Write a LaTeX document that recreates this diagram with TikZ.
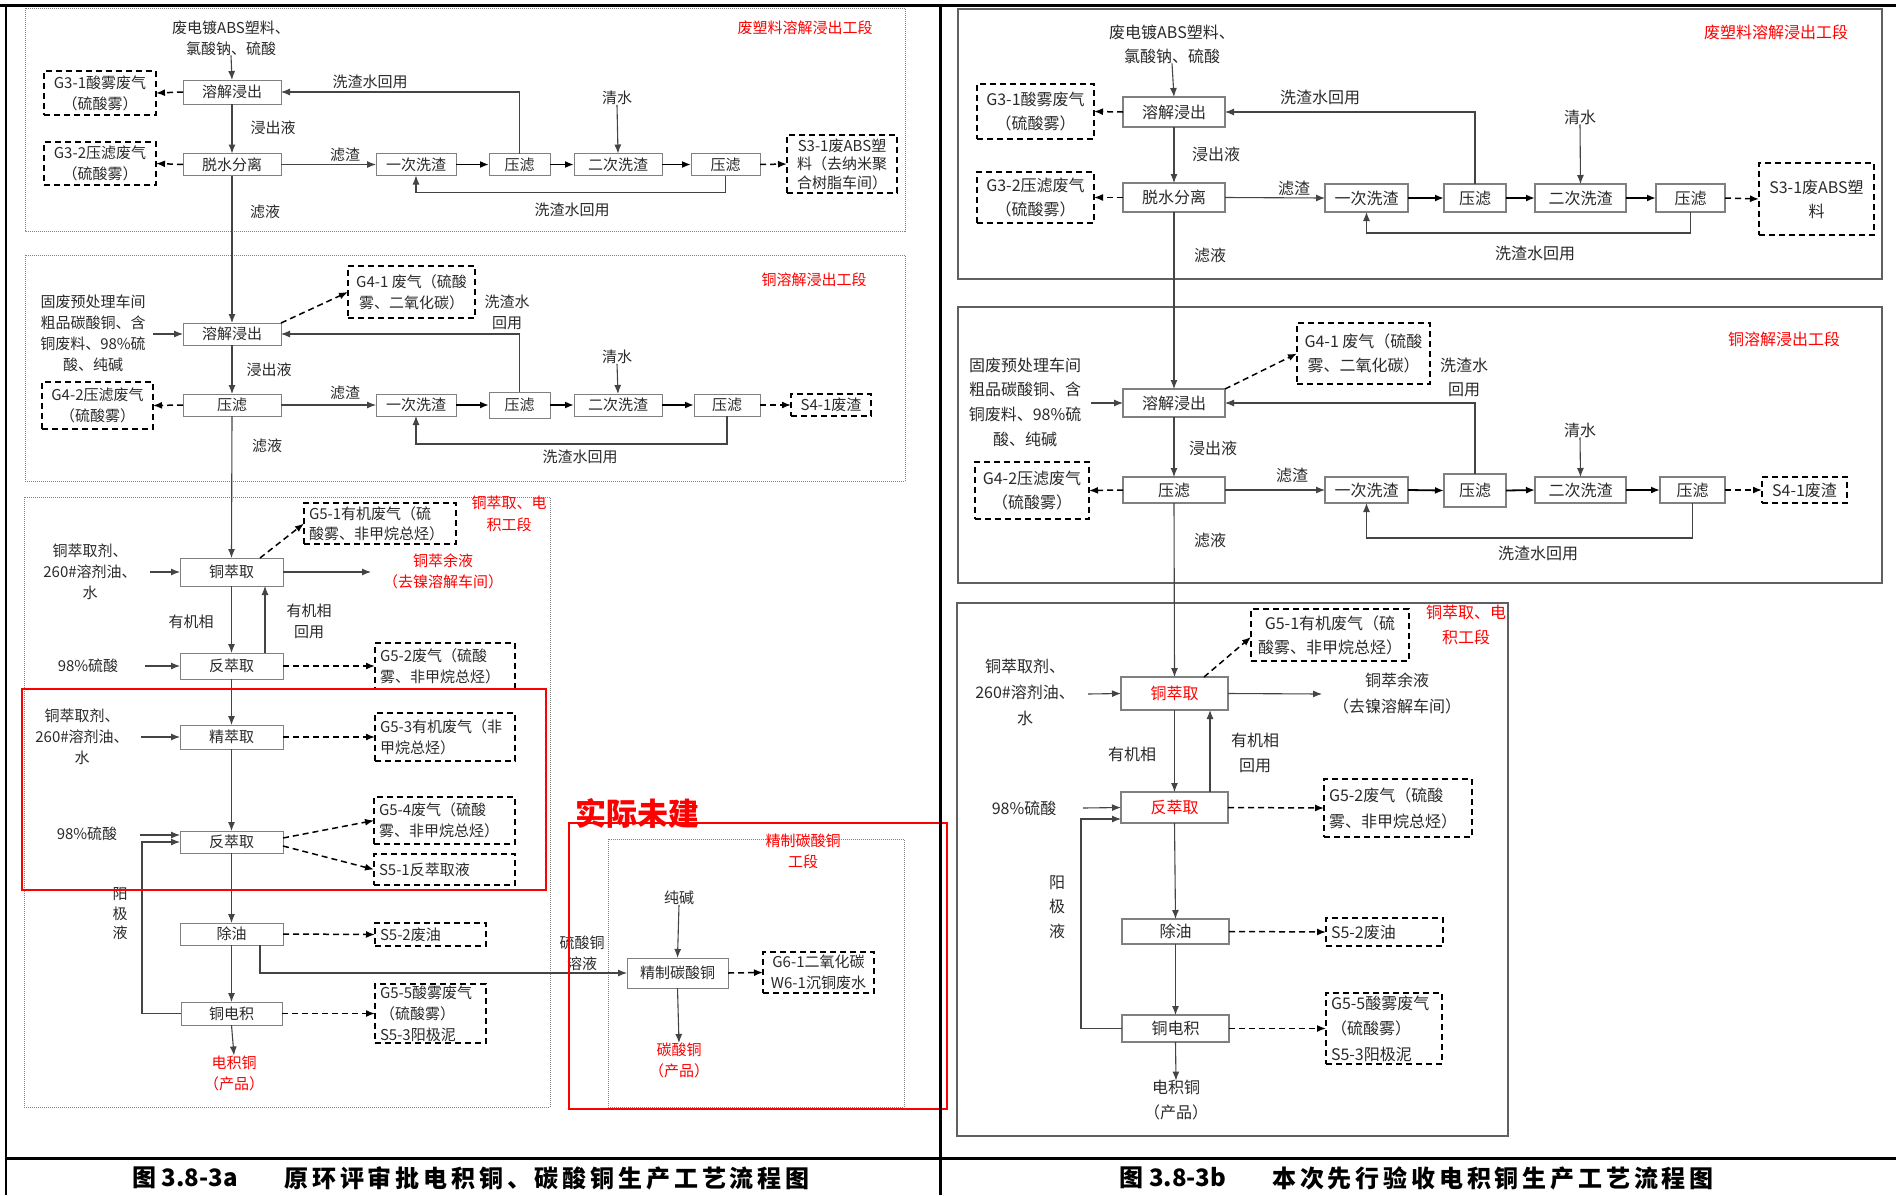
\documentclass[tikz,border=0pt]{standalone}
\usepackage{fontspec}
\setmainfont{Noto Sans CJK SC}
\newfontfamily\capfont[LetterSpace=16]{Noto Sans CJK SC}
\newfontfamily\capnl{Noto Sans CJK SC}
\usetikzlibrary{arrows.meta}
\definecolor{txt}{HTML}{2A2A2A}
\definecolor{lnc}{HTML}{444444}
\definecolor{bxc}{HTML}{808080}
\definecolor{rd}{HTML}{FF0000}
\tikzset{
 bs/.style={inner sep=0pt, outer sep=0pt, text=txt, align=center},
 lf/.style={font=\fontsize{15}{21}\selectfont},
 rf/.style={font=\fontsize{16}{24}\selectfont},
 pbox/.style={bs, draw=bxc, line width=1pt, fill=white},
 rbox/.style={bs, draw=bxc, line width=1.4pt, fill=white},
 dbox/.style={bs, draw=black, line width=1.6pt, dash pattern=on 6pt off 4pt},
 dboxL/.style={dbox, align=left, inner xsep=5pt},
 lbl/.style={bs},
 ttl/.style={bs, text=rd},
 arr/.style={draw=lnc, line width=1.1pt, -{Latex[length=9pt,width=7pt]}},
 barr/.style={draw=black, line width=1.8pt, -{Latex[length=9pt,width=7pt]}},
 darr/.style={draw=black, line width=1.5pt, dash pattern=on 6pt off 4pt, -{Latex[length=9pt,width=7pt]}},
 dotbox/.style={draw=gray, line width=0.9pt, dash pattern=on 1pt off 1pt},
 redbox/.style={draw=rd, line width=2.5pt},
 gbox/.style={draw=gray!75!black, line width=1.8pt},
 captxt/.style={bs, text=black, font=\capfont\bfseries\fontsize{24}{24}\selectfont},
 capnum/.style={bs, text=black, font=\capnl\bfseries\fontsize{24}{24}\selectfont},
}
\begin{document}
\begin{tikzpicture}[x=1pt,y=-1pt]
\useasboundingbox (0,0) rectangle (1896,1195);
\fill[white] (0,0) rectangle (1896,1195);

%================ LEFT (3a) =================
% ---- section 1
\draw[dotbox] (25,8) rectangle (905,231);
\node[ttl,lf] (LT1) at (805,28) {废塑料溶解浸出工段};
\node[lbl,lf] (L1in) at (231,38) {废电镀ABS塑料、\\氯酸钠、硫酸};
\node[pbox,lf,minimum width=98pt,minimum height=24pt] (L1a) at (232,92) {溶解浸出};
\node[pbox,lf,minimum width=98pt,minimum height=22pt] (L1b) at (232,164.5) {脱水分离};
\node[pbox,lf,minimum width=80pt,minimum height=22pt] (L1c) at (416,164.5) {一次洗渣};
\node[pbox,lf,minimum width=61pt,minimum height=22pt] (L1d) at (519.5,164.5) {压滤};
\node[pbox,lf,minimum width=88pt,minimum height=22pt] (L1e) at (618,164.5) {二次洗渣};
\node[pbox,lf,minimum width=69pt,minimum height=22pt] (L1f) at (725.5,164.5) {压滤};
\node[dbox,lf,minimum width=112pt,minimum height=44pt] (G31) at (100,93) {G3-1酸雾废气\\（硫酸雾）};
\node[dbox,lf,minimum width=112pt,minimum height=43pt] (G32) at (100,163.5) {G3-2压滤废气\\（硫酸雾）};
\node[dbox,font=\fontsize{15}{18.5}\selectfont,minimum width=110pt,minimum height=58pt] (S31) at (842,164) {S3-1废ABS塑\\料（去纳米聚\\合树脂车间）};
\node[lbl,lf] (Lqs1) at (617,98) {清水};
\node[lbl,lf] (Lw1) at (370,82) {洗渣水回用};
\node[lbl,lf] (Ljc1) at (273,128) {浸出液};
\node[lbl,lf] (Llz1) at (345,155) {滤渣};
\node[lbl,lf] (Lw2) at (572,210) {洗渣水回用};
\node[lbl,lf] (Lly1) at (265,212) {滤液};
\draw[arr] (L1in.south) -- (L1a.north);
\draw[darr] (L1a.west) -- (G31.east);
\draw[darr] (L1b.west) -- (G32.east);
\draw[arr] (L1a.south) -- (L1b.north);
\draw[arr] (L1b.east) -- (L1c.west);
\draw[barr] (L1c.east) -- (L1d.west);
\draw[barr] (L1d.east) -- (L1e.west);
\draw[barr] (L1e.east) -- (L1f.west);
\draw[darr] (L1f.east) -- (S31.west);
\draw[arr] (L1d.north) |- (L1a.east);
\draw[arr] (L1f.south) -- ++(0,17) -| (L1c.south);
\draw[arr] (Lqs1.south) -- (L1e.north);

% ---- section 2
\draw[dotbox] (25,255) rectangle (905,481);
\node[ttl,lf] (LT2) at (814,280) {铜溶解浸出工段};
\node[lbl,lf] (L2in) at (93,333.5) {固废预处理车间\\粗品碳酸铜、含\\铜废料、98\%硫\\酸、纯碱};
\coordinate (L2s) at (153,334);
\node[pbox,lf,minimum width=98pt,minimum height=22pt] (L2a) at (232,334) {溶解浸出};
\node[dbox,lf,minimum width=127pt,minimum height=52pt] (G41) at (411.5,292) {G4-1 废气（硫酸\\雾、二氧化碳）};
\node[lbl,lf] (Lw3) at (507,312.5) {洗渣水\\回用};
\node[lbl,lf] (Ljc2) at (269,370) {浸出液};
\node[pbox,lf,minimum width=98pt,minimum height=22pt] (L2b) at (232,405) {压滤};
\node[dbox,lf,minimum width=111pt,minimum height=47pt] (G42) at (97.5,405.5) {G4-2压滤废气\\（硫酸雾）};
\node[lbl,lf] (Llz2) at (345,393) {滤渣};
\node[pbox,lf,minimum width=80pt,minimum height=22pt] (L2c) at (416,405) {一次洗渣};
\node[pbox,lf,minimum width=61pt,minimum height=26pt] (L2d) at (519.5,405) {压滤};
\node[pbox,lf,minimum width=88pt,minimum height=22pt] (L2e) at (618,405) {二次洗渣};
\node[pbox,lf,minimum width=66pt,minimum height=22pt] (L2f) at (727,405) {压滤};
\node[dbox,lf,minimum width=80pt,minimum height=22pt] (S41) at (831,405) {S4-1废渣};
\node[lbl,lf] (Lqs2) at (617,357) {清水};
\node[lbl,lf] (Lw4) at (580,457) {洗渣水回用};
\node[lbl,lf] (Lly2) at (267,446) {滤液};
\draw[arr] (L1b.south) -- (L2a.north);
\draw[arr] (L2s) -- (L2a.west);
\draw[darr] (L2a.north east) -- (G41.west);
\draw[darr] (L2b.west) -- (G42.east);
\draw[arr] (L2a.south) -- (L2b.north);
\draw[arr] (L2b.east) -- (L2c.west);
\draw[barr] (L2c.east) -- (L2d.west);
\draw[barr] (L2d.east) -- (L2e.west);
\draw[barr] (L2e.east) -- (L2f.west);
\draw[darr] (L2f.east) -- (S41.west);
\draw[arr] (L2d.north) |- (L2a.east);
\draw[arr] (L2f.south) -- ++(0,28) -| (L2c.south);
\draw[arr] (Lqs2.south) -- (L2e.north);

% ---- section 3
\draw[dotbox] (24,497) rectangle (550,1107);
\node[ttl,font=\fontsize{15}{22}\selectfont] (LT3) at (509,514) {铜萃取、电\\积工段};
\node[lbl,lf] (L3in) at (90,571.5) {铜萃取剂、\\260\#溶剂油、\\水};
\coordinate (L3s) at (150,572);
\node[pbox,lf,minimum width=103pt,minimum height=28pt] (L3a) at (231.5,572) {铜萃取};
\node[dboxL,font=\fontsize{15}{20}\selectfont,text width=142pt,minimum height=41pt] (G51) at (380,523.5) {G5-1有机废气（硫\\酸雾、非甲烷总烃）};
\coordinate (L3o) at (371,572);
\node[ttl,lf] (L3out) at (443,571.5) {铜萃余液\\（去镍溶解车间）};
\node[lbl,lf] (Lyj1) at (191,622) {有机相};
\node[lbl,lf] (Lyj2) at (309,621.5) {有机相\\回用};
\node[pbox,lf,minimum width=103pt,minimum height=26pt] (L3b) at (231.5,666) {反萃取};
\node[lbl,lf] (L98a) at (88,666) {98\%硫酸};
\coordinate (L3s2) at (145,666);
\node[dboxL,lf,text width=130pt,minimum height=46pt] (G52) at (445,666) {G5-2废气（硫酸\\雾、非甲烷总烃）};
\node[pbox,lf,minimum width=103pt,minimum height=24pt] (L3c) at (231.5,737) {精萃取};
\node[lbl,lf] (L3in2) at (82,737) {铜萃取剂、\\260\#溶剂油、\\水};
\coordinate (L3s3) at (141,737);
\node[dboxL,lf,text width=130pt,minimum height=48pt] (G53) at (445,737) {G5-3有机废气（非\\甲烷总烃）};
\node[pbox,lf,minimum width=103pt,minimum height=22pt] (L3d) at (231.5,842) {反萃取};
\node[lbl,lf] (L98b) at (87,834) {98\%硫酸};
\coordinate (L3s4) at (140,835);
\node[dboxL,lf,text width=131pt,minimum height=47pt] (G54) at (444.5,820.5) {G5-4废气（硫酸\\雾、非甲烷总烃）};
\node[dboxL,lf,text width=131pt,minimum height=31pt] (S51) at (444.5,869.5) {S5-1反萃取液};
\node[lbl,font=\fontsize{15}{19.5}\selectfont] (Lyjy) at (120,914) {阳\\极\\液};
\node[pbox,lf,minimum width=103pt,minimum height=22pt] (L3e) at (231.5,934) {除油};
\node[dboxL,lf,text width=101pt,minimum height=23pt] (S52) at (430.5,934.5) {S5-2废油};
\node[pbox,lf,minimum width=101pt,minimum height=23pt] (L3f) at (231.5,1013.5) {铜电积};
\node[dboxL,lf,text width=101pt,minimum height=59pt] (G55) at (430.5,1013.5) {G5-5酸雾废气\\（硫酸雾）\\S5-3阳极泥};
\node[ttl,lf] (L3prod) at (234,1073) {电积铜\\（产品）};
\draw[arr] (L2b.south) -- (L3a.north);
\draw[arr] (L3s) -- (L3a.west);
\draw[darr] ([xshift=28.5pt]L3a.north) -- (G51.west);
\draw[arr] (L3a.east) -- (L3o);
\draw[arr] (L3a.south) -- (L3b.north);
\draw[arr] ([xshift=33.5pt]L3b.north) -- ([xshift=33.5pt]L3a.south);
\draw[arr] (L3s2) -- (L3b.west);
\draw[darr] (L3b.east) -- (G52.west);
\draw[arr] (L3b.south) -- (L3c.north);
\draw[arr] (L3s3) -- (L3c.west);
\draw[darr] (L3c.east) -- (G53.west);
\draw[arr] (L3c.south) -- (L3d.north);
\draw[arr] (L3s4) -- (L3d.west |- L3s4);
\draw[darr] ([yshift=4pt]L3d.east) -- (G54.west);
\draw[darr] ([yshift=-4pt]L3d.east) -- (S51.west);
\draw[arr] (L3d.south) -- (L3e.north);
\draw[darr] (L3e.east) -- (S52.west);
\draw[arr] (L3e.south) -- (L3f.north);
\draw[darr] (L3f.east) -- (G55.west);
\draw[arr] (L3f.south) -- (L3prod.north);
\draw[arr] (L3f.west) -- ++(-39,0) |- (L3d.west);

% ---- section 4
\draw[dotbox] (608,839) rectangle (904,1107);
\node[ttl,lf] (LT4) at (803,851.5) {精制碳酸铜\\工段};
\node[lbl,lf] (Lcj) at (679,898) {纯碱};
\node[pbox,lf,minimum width=101pt,minimum height=30pt] (L4a) at (677.5,973) {精制碳酸铜};
\node[lbl,lf] (Llsy) at (582,953) {硫酸铜\\溶液};
\node[dbox,lf,minimum width=111pt,minimum height=41pt] (G61) at (818.5,972.5) {G6-1二氧化碳\\W6-1沉铜废水};
\node[ttl,lf] (L4prod) at (679,1060.5) {碳酸铜\\（产品）};
\draw[arr] (Lcj.south) -- (L4a.north);
\draw[darr] (L4a.east) -- (G61.west);
\draw[arr] (L4a.south) -- (L4prod.north);
\draw[arr] ([xshift=28.5pt]L3e.south) |- (L4a.west);

% red marks
\draw[redbox] (22,689) rectangle (546,890);
\draw[redbox] (569,823) rectangle (947,1109);
\node[bs,text=rd,font=\bfseries\fontsize{31}{31}\selectfont] (Lwj) at (637,813) {实际未建};

%================ RIGHT (3b) =================
% ---- section 1
\draw[gbox] (958,9) rectangle (1882,279);
\node[ttl,rf] (RT1) at (1776,32) {废塑料溶解浸出工段};
\node[lbl,rf] (R1in) at (1172,44) {废电镀ABS塑料、\\氯酸钠、硫酸};
\node[rbox,rf,minimum width=102pt,minimum height=30pt] (R1a) at (1174,112) {溶解浸出};
\node[rbox,rf,minimum width=102pt,minimum height=29pt] (R1b) at (1174,197.5) {脱水分离};
\node[rbox,rf,minimum width=83pt,minimum height=28pt] (R1c) at (1366.5,198) {一次洗渣};
\node[rbox,rf,minimum width=62pt,minimum height=28pt] (R1d) at (1475,198) {压滤};
\node[rbox,rf,minimum width=91pt,minimum height=28pt] (R1e) at (1580.5,198) {二次洗渣};
\node[rbox,rf,minimum width=69pt,minimum height=28pt] (R1f) at (1690.5,198) {压滤};
\node[dbox,rf,minimum width=117pt,minimum height=55pt] (RG31) at (1035.5,111.5) {G3-1酸雾废气\\（硫酸雾）};
\node[dbox,rf,minimum width=117pt,minimum height=51pt] (RG32) at (1035.5,197.5) {G3-2压滤废气\\（硫酸雾）};
\node[dbox,rf,minimum width=115pt,minimum height=72pt] (RS31) at (1816.5,199) {S3-1废ABS塑\\料};
\node[lbl,rf] (Rqs1) at (1580,117) {清水};
\node[lbl,rf] (Rw1) at (1320,97) {洗渣水回用};
\node[lbl,rf] (Rjc1) at (1216,154) {浸出液};
\node[lbl,rf] (Rlz1) at (1294,188) {滤渣};
\node[lbl,rf] (Rw2) at (1535,253) {洗渣水回用};
\node[lbl,rf] (Rly1) at (1210,255) {滤液};
\draw[arr] (R1in.south) -- (R1a.north);
\draw[darr] (R1a.west) -- (RG31.east);
\draw[darr] (R1b.west) -- (RG32.east);
\draw[arr] (R1a.south) -- (R1b.north);
\draw[arr] (R1b.east) -- (R1c.west);
\draw[barr] (R1c.east) -- (R1d.west);
\draw[barr] (R1d.east) -- (R1e.west);
\draw[barr] (R1e.east) -- (R1f.west);
\draw[darr] (R1f.east) -- (RS31.west);
\draw[arr] (R1d.north) |- (R1a.east);
\draw[arr] (R1f.south) -- ++(0,21) -| (R1c.south);
\draw[arr] (Rqs1.south) -- (R1e.north);

% ---- section 2
\draw[gbox] (958,307) rectangle (1882,583);
\node[ttl,rf] (RT2) at (1784,339) {铜溶解浸出工段};
\node[lbl,font=\fontsize{16}{24.7}\selectfont] (R2in) at (1025,402) {固废预处理车间\\粗品碳酸铜、含\\铜废料、98\%硫\\酸、纯碱};
\coordinate (R2s) at (1091,403);
\node[rbox,rf,minimum width=102pt,minimum height=28pt] (R2a) at (1174,403) {溶解浸出};
\node[dbox,rf,minimum width=133pt,minimum height=61pt] (RG41) at (1363.5,353.5) {G4-1 废气（硫酸\\雾、二氧化碳）};
\node[lbl,rf] (Rw3) at (1464,377) {洗渣水\\回用};
\node[lbl,rf] (Rjc2) at (1213,448) {浸出液};
\node[rbox,rf,minimum width=102pt,minimum height=26pt] (R2b) at (1174,490) {压滤};
\node[dbox,rf,minimum width=114pt,minimum height=57pt] (RG42) at (1032,490.5) {G4-2压滤废气\\（硫酸雾）};
\node[lbl,rf] (Rlz2) at (1292,475) {滤渣};
\node[rbox,rf,minimum width=83pt,minimum height=26pt] (R2c) at (1366.5,490) {一次洗渣};
\node[rbox,rf,minimum width=62pt,minimum height=33pt] (R2d) at (1475,490.5) {压滤};
\node[rbox,rf,minimum width=91pt,minimum height=26pt] (R2e) at (1580.5,490) {二次洗渣};
\node[rbox,rf,minimum width=65pt,minimum height=26pt] (R2f) at (1692.5,490) {压滤};
\node[dbox,rf,minimum width=85pt,minimum height=26pt] (RS41) at (1804.5,490) {S4-1废渣};
\node[lbl,rf] (Rqs2) at (1580,430) {清水};
\node[lbl,rf] (Rw4) at (1538,553) {洗渣水回用};
\node[lbl,rf] (Rly2) at (1210,540) {滤液};
\draw[arr] (R1b.south) -- (R2a.north);
\draw[arr] (R2s) -- (R2a.west);
\draw[darr] (R2a.north east) -- (RG41.west);
\draw[darr] (R2b.west) -- (RG42.east);
\draw[arr] (R2a.south) -- (R2b.north);
\draw[arr] (R2b.east) -- (R2c.west);
\draw[barr] (R2c.east) -- (R2d.west);
\draw[barr] (R2d.east) -- (R2e.west);
\draw[barr] (R2e.east) -- (R2f.west);
\draw[darr] (R2f.east) -- (RS41.west);
\draw[arr] (R2d.north) |- (R2a.east);
\draw[arr] (R2f.south) -- ++(0,35) -| (R2c.south);
\draw[arr] (Rqs2.south) -- (R2e.north);

% ---- section 3
\draw[gbox] (957,603) rectangle (1508,1136);
\node[ttl,font=\fontsize{16}{25}\selectfont] (RT3) at (1466,624.5) {铜萃取、电\\积工段};
\node[lbl,font=\fontsize{16}{26}\selectfont] (R3in) at (1025,692) {铜萃取剂、\\260\#溶剂油、\\水};
\coordinate (R3s) at (1088,694);
\node[rbox,rf,text=rd,minimum width=107pt,minimum height=33pt] (R3a) at (1174.5,693.5) {铜萃取};
\node[dbox,rf,minimum width=158pt,minimum height=52pt] (RG51) at (1330,635) {G5-1有机废气（硫\\酸雾、非甲烷总烃）};
\coordinate (R3o) at (1322,694);
\node[lbl,font=\fontsize{16}{26}\selectfont] (R3out) at (1397,693) {铜萃余液\\（去镍溶解车间）};
\node[lbl,rf] (Ryj1) at (1132,754) {有机相};
\node[lbl,font=\fontsize{16}{25}\selectfont] (Ryj2) at (1255,752.5) {有机相\\回用};
\node[rbox,rf,text=rd,minimum width=107pt,minimum height=31pt] (R3b) at (1174.5,807.5) {反萃取};
\node[lbl,rf] (R98) at (1024,808) {98\%硫酸};
\coordinate (R3s2) at (1083,808);
\node[dboxL,font=\fontsize{16}{26}\selectfont,text width=138pt,minimum height=58pt] (RG52) at (1398,808) {G5-2废气（硫酸\\雾、非甲烷总烃）};
\node[rbox,rf,minimum width=107pt,minimum height=25pt] (R3c) at (1175.5,931.5) {除油};
\node[dboxL,rf,text width=107pt,minimum height=28pt] (RS52) at (1384.5,932) {S5-2废油};
\node[rbox,rf,minimum width=107pt,minimum height=27pt] (R3d) at (1175.5,1028.5) {铜电积};
\node[dboxL,font=\fontsize{16}{25.5}\selectfont,text width=106pt,minimum height=71pt] (RG55) at (1384,1028.5) {G5-5酸雾废气\\（硫酸雾）\\S5-3阳极泥};
\node[lbl,font=\fontsize{16}{24.5}\selectfont] (Ryjy) at (1057,907) {阳\\极\\液};
\node[lbl,font=\fontsize{16}{25}\selectfont] (R3prod) at (1176,1100.5) {电积铜\\（产品）};
\draw[arr] (R2b.south) -- (R3a.north);
\draw[arr] (R3s) -- (R3a.west);
\draw[darr] ([xshift=29.5pt]R3a.north) -- ([yshift=-2pt]RG51.west);
\draw[arr] (R3a.east) -- (R3o);
\draw[arr] (R3a.south) -- (R3b.north);
\draw[arr] ([xshift=35.5pt]R3b.north) -- ([xshift=35.5pt]R3a.south);
\draw[arr] (R3s2) -- (R3b.west);
\draw[darr] (R3b.east) -- (RG52.west);
\draw[arr] (R3b.south) -- (R3c.north);
\draw[darr] (R3c.east) -- (RS52.west);
\draw[arr] (R3c.south) -- (R3d.north);
\draw[darr] (R3d.east) -- (RG55.west);
\draw[arr] (R3d.south) -- (R3prod.north);
\draw[arr] (R3d.west) -- ++(-41,0) |- ([yshift=-11.5pt]R3b.west);

%================ FRAME & CAPTIONS =================
\draw[line width=3pt] (0,5) -- (1896,5);
\draw[line width=2.5pt] (6,5) -- (6,1195);
\draw[line width=3pt] (940,5) -- (940,1195);
\draw[line width=3pt] (6,1158) -- (1896,1158);
\node[capnum] (C1a) at (185,1178) {图 3.8-3a};
\node[captxt] (C1b) at (547,1178) {原环评审批电积铜、碳酸铜生产工艺流程图};
\node[capnum] (C2a) at (1173,1178) {图 3.8-3b};
\node[captxt] (C2b) at (1493,1178) {本次先行验收电积铜生产工艺流程图};
\end{tikzpicture}
\end{document}
